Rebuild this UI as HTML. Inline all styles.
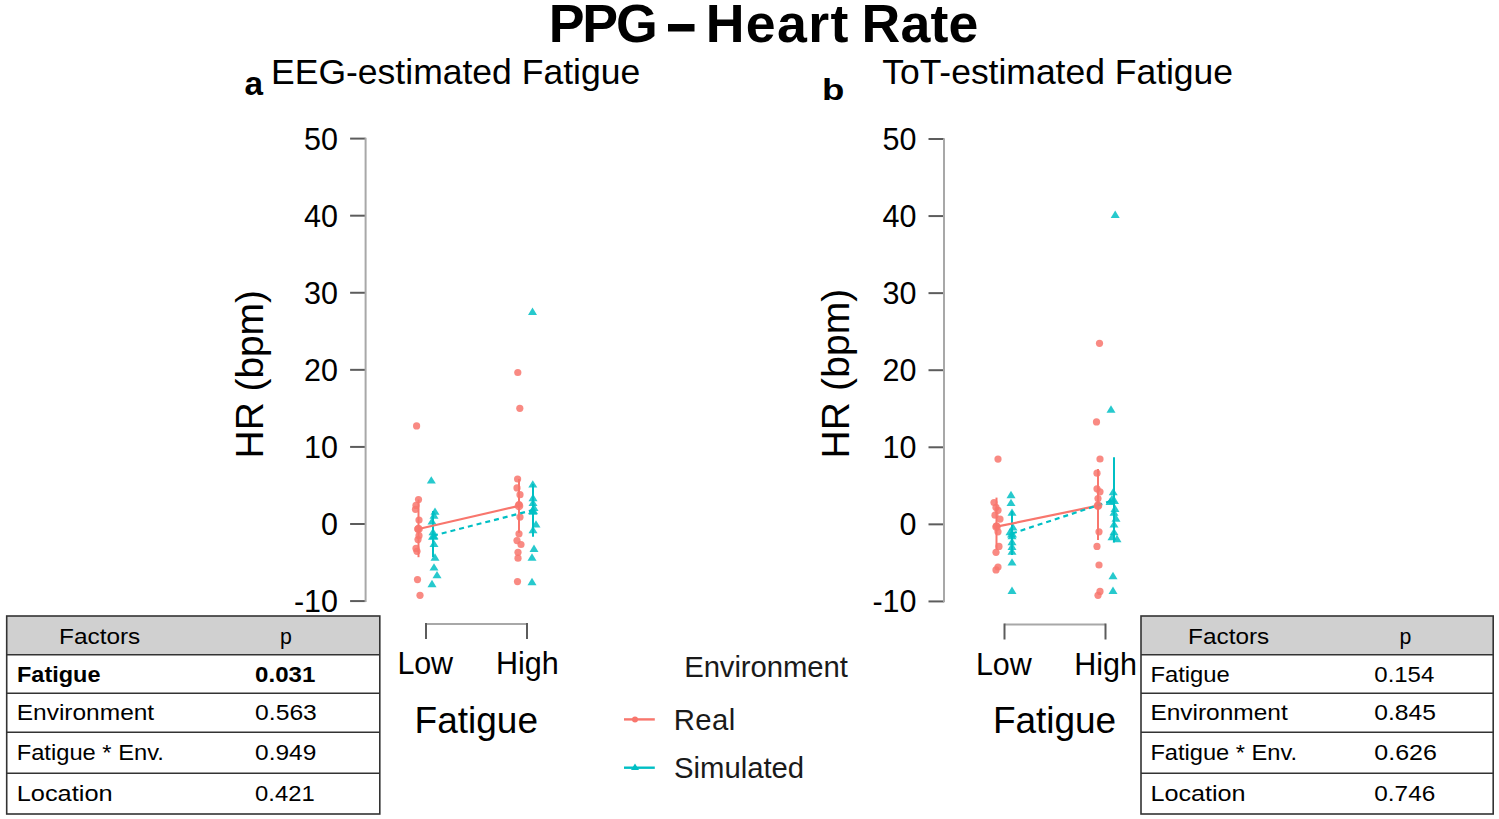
<!DOCTYPE html>
<html><head><meta charset="utf-8"><style>
html,body{margin:0;padding:0;background:#fff;}
svg{display:block;font-family:"Liberation Sans",sans-serif;}
</style></head><body>
<svg width="1499" height="819" viewBox="0 0 1499 819">
<rect x="6.7" y="616" width="373.1" height="38.700000000000045" fill="#d0d0d0"/>
<rect x="6.7" y="616" width="373.1" height="198" fill="none" stroke="#333" stroke-width="1.6"/>
<line x1="6.7" y1="654.7" x2="379.8" y2="654.7" stroke="#333" stroke-width="1.6"/>
<line x1="6.7" y1="693.2" x2="379.8" y2="693.2" stroke="#333" stroke-width="1.6"/>
<line x1="6.7" y1="732.3" x2="379.8" y2="732.3" stroke="#333" stroke-width="1.6"/>
<line x1="6.7" y1="773.3" x2="379.8" y2="773.3" stroke="#333" stroke-width="1.6"/>
<rect x="1141" y="616" width="352.20000000000005" height="38.700000000000045" fill="#d0d0d0"/>
<rect x="1141" y="616" width="352.20000000000005" height="198" fill="none" stroke="#333" stroke-width="1.6"/>
<line x1="1141" y1="654.7" x2="1493.2" y2="654.7" stroke="#333" stroke-width="1.6"/>
<line x1="1141" y1="693.2" x2="1493.2" y2="693.2" stroke="#333" stroke-width="1.6"/>
<line x1="1141" y1="732.3" x2="1493.2" y2="732.3" stroke="#333" stroke-width="1.6"/>
<line x1="1141" y1="773.3" x2="1493.2" y2="773.3" stroke="#333" stroke-width="1.6"/>
<text x="548.80" y="42" font-size="53.7" font-weight="bold" textLength="108.89" lengthAdjust="spacing">PPG</text>
<text x="705.70" y="42" font-size="53.7" font-weight="bold" textLength="142.72" lengthAdjust="spacing">Heart</text>
<text x="861.40" y="42" font-size="53.7" font-weight="bold" textLength="116.99" lengthAdjust="spacing">Rate</text>
<text x="244.40" y="94.8" font-size="34" font-weight="bold" textLength="18.54" lengthAdjust="spacingAndGlyphs">a</text>
<text x="271.00" y="84" font-size="35" textLength="369.24" lengthAdjust="spacingAndGlyphs">EEG-estimated Fatigue</text>
<text x="822.00" y="99.6" font-size="30" font-weight="bold" textLength="22.36" lengthAdjust="spacingAndGlyphs">b</text>
<text x="882.20" y="84.3" font-size="35" textLength="350.86" lengthAdjust="spacingAndGlyphs">ToT-estimated Fatigue</text>
<text x="397.60" y="674.2" font-size="30.5" textLength="55.32" lengthAdjust="spacing">Low</text>
<text x="496.00" y="674.2" font-size="30.5" textLength="62.73" lengthAdjust="spacing">High</text>
<text x="976.00" y="675" font-size="30.5" textLength="55.74" lengthAdjust="spacing">Low</text>
<text x="1074.20" y="675" font-size="30.5" textLength="62.73" lengthAdjust="spacing">High</text>
<text x="414.60" y="732.7" font-size="37" textLength="123.42" lengthAdjust="spacing">Fatigue</text>
<text x="992.90" y="733" font-size="37" textLength="123.22" lengthAdjust="spacing">Fatigue</text>
<text transform="translate(263 458.40) rotate(-90)" x="0" y="0" font-size="39" textLength="168.41" lengthAdjust="spacing">HR (bpm)</text>
<text transform="translate(849.4 458.40) rotate(-90)" x="0" y="0" font-size="39" textLength="169.73" lengthAdjust="spacing">HR (bpm)</text>
<text x="684.20" y="677.1" font-size="29.3" fill="#1a1a1a" textLength="163.58" lengthAdjust="spacing">Environment</text>
<text x="673.70" y="730.4" font-size="29.3" fill="#1a1a1a" textLength="61.67" lengthAdjust="spacing">Real</text>
<text x="674.00" y="778.4" font-size="29.3" fill="#1a1a1a" textLength="130.09" lengthAdjust="spacing">Simulated</text>
<text x="59.00" y="644" font-size="21.3" textLength="81.28" lengthAdjust="spacingAndGlyphs">Factors</text>
<text x="280.00" y="644" font-size="21.3" textLength="11.86" lengthAdjust="spacing">p</text>
<text x="17.02" y="681.5" font-size="21.3" font-weight="bold" textLength="83.46" lengthAdjust="spacingAndGlyphs">Fatigue</text>
<text x="255.10" y="681.5" font-size="21.3" font-weight="bold" textLength="60.19" lengthAdjust="spacingAndGlyphs">0.031</text>
<text x="16.70" y="720.4" font-size="21.3" textLength="137.50" lengthAdjust="spacingAndGlyphs">Environment</text>
<text x="255.10" y="720.4" font-size="21.3" textLength="61.75" lengthAdjust="spacingAndGlyphs">0.563</text>
<text x="16.70" y="760.2" font-size="21.3" textLength="147.18" lengthAdjust="spacingAndGlyphs">Fatigue * Env.</text>
<text x="255.10" y="760.2" font-size="21.3" textLength="61.19" lengthAdjust="spacingAndGlyphs">0.949</text>
<text x="16.70" y="801.4" font-size="21.3" textLength="95.93" lengthAdjust="spacingAndGlyphs">Location</text>
<text x="255.10" y="801.4" font-size="21.3" textLength="59.59" lengthAdjust="spacingAndGlyphs">0.421</text>
<text x="1188.10" y="644" font-size="21.3" textLength="81.09" lengthAdjust="spacingAndGlyphs">Factors</text>
<text x="1399.40" y="644" font-size="21.3" textLength="11.86" lengthAdjust="spacing">p</text>
<text x="1150.40" y="681.5" font-size="21.3" textLength="79.38" lengthAdjust="spacingAndGlyphs">Fatigue</text>
<text x="1374.30" y="681.5" font-size="21.3" textLength="59.99" lengthAdjust="spacingAndGlyphs">0.154</text>
<text x="1150.40" y="720.4" font-size="21.3" textLength="137.29" lengthAdjust="spacingAndGlyphs">Environment</text>
<text x="1374.30" y="720.4" font-size="21.3" textLength="61.63" lengthAdjust="spacingAndGlyphs">0.845</text>
<text x="1150.40" y="760.2" font-size="21.3" textLength="146.78" lengthAdjust="spacingAndGlyphs">Fatigue * Env.</text>
<text x="1374.30" y="760.2" font-size="21.3" textLength="62.55" lengthAdjust="spacingAndGlyphs">0.626</text>
<text x="1150.40" y="801.4" font-size="21.3" textLength="95.23" lengthAdjust="spacingAndGlyphs">Location</text>
<text x="1374.30" y="801.4" font-size="21.3" textLength="60.95" lengthAdjust="spacingAndGlyphs">0.746</text>
<rect x="668" y="24" width="26.5" height="7.5"/>
<line x1="350.1" y1="138.60" x2="365.6" y2="138.60" stroke="#5c5c5c" stroke-width="2"/>
<text x="338" y="149.60" text-anchor="end" font-size="30.5">50</text>
<line x1="350.1" y1="215.68" x2="365.6" y2="215.68" stroke="#5c5c5c" stroke-width="2"/>
<text x="338" y="226.68" text-anchor="end" font-size="30.5">40</text>
<line x1="350.1" y1="292.76" x2="365.6" y2="292.76" stroke="#5c5c5c" stroke-width="2"/>
<text x="338" y="303.76" text-anchor="end" font-size="30.5">30</text>
<line x1="350.1" y1="369.84" x2="365.6" y2="369.84" stroke="#5c5c5c" stroke-width="2"/>
<text x="338" y="380.84" text-anchor="end" font-size="30.5">20</text>
<line x1="350.1" y1="446.92" x2="365.6" y2="446.92" stroke="#5c5c5c" stroke-width="2"/>
<text x="338" y="457.92" text-anchor="end" font-size="30.5">10</text>
<line x1="350.1" y1="524.00" x2="365.6" y2="524.00" stroke="#5c5c5c" stroke-width="2"/>
<text x="338" y="535.00" text-anchor="end" font-size="30.5">0</text>
<line x1="350.1" y1="601.08" x2="365.6" y2="601.08" stroke="#5c5c5c" stroke-width="2"/>
<text x="338" y="612.08" text-anchor="end" font-size="30.5">-10</text>
<line x1="365.6" y1="137.80" x2="365.6" y2="601.88" stroke="#a8a8a8" stroke-width="2"/>
<line x1="928.5" y1="139.00" x2="944.0" y2="139.00" stroke="#5c5c5c" stroke-width="2"/>
<text x="916.5" y="150.00" text-anchor="end" font-size="30.5">50</text>
<line x1="928.5" y1="216.07" x2="944.0" y2="216.07" stroke="#5c5c5c" stroke-width="2"/>
<text x="916.5" y="227.07" text-anchor="end" font-size="30.5">40</text>
<line x1="928.5" y1="293.14" x2="944.0" y2="293.14" stroke="#5c5c5c" stroke-width="2"/>
<text x="916.5" y="304.14" text-anchor="end" font-size="30.5">30</text>
<line x1="928.5" y1="370.21" x2="944.0" y2="370.21" stroke="#5c5c5c" stroke-width="2"/>
<text x="916.5" y="381.21" text-anchor="end" font-size="30.5">20</text>
<line x1="928.5" y1="447.28" x2="944.0" y2="447.28" stroke="#5c5c5c" stroke-width="2"/>
<text x="916.5" y="458.28" text-anchor="end" font-size="30.5">10</text>
<line x1="928.5" y1="524.35" x2="944.0" y2="524.35" stroke="#5c5c5c" stroke-width="2"/>
<text x="916.5" y="535.35" text-anchor="end" font-size="30.5">0</text>
<line x1="928.5" y1="601.42" x2="944.0" y2="601.42" stroke="#5c5c5c" stroke-width="2"/>
<text x="916.5" y="612.42" text-anchor="end" font-size="30.5">-10</text>
<line x1="944.0" y1="138.20" x2="944.0" y2="602.22" stroke="#a8a8a8" stroke-width="2"/>
<line x1="426" y1="624" x2="527" y2="624" stroke="#a8a8a8" stroke-width="2"/><line x1="426" y1="623" x2="426" y2="639" stroke="#5c5c5c" stroke-width="2"/><line x1="527" y1="623" x2="527" y2="639" stroke="#5c5c5c" stroke-width="2"/>
<line x1="1004.5" y1="624.5" x2="1105.5" y2="624.5" stroke="#a8a8a8" stroke-width="2"/><line x1="1004.5" y1="623.5" x2="1004.5" y2="639.5" stroke="#5c5c5c" stroke-width="2"/><line x1="1105.5" y1="623.5" x2="1105.5" y2="639.5" stroke="#5c5c5c" stroke-width="2"/>
<circle cx="418.5" cy="499.6" r="3.6" fill="#F8766D" fill-opacity="0.85"/>
<circle cx="416" cy="505.4" r="3.6" fill="#F8766D" fill-opacity="0.85"/>
<circle cx="415.5" cy="509.3" r="3.6" fill="#F8766D" fill-opacity="0.85"/>
<circle cx="419" cy="520" r="3.6" fill="#F8766D" fill-opacity="0.85"/>
<circle cx="418" cy="528.9" r="3.6" fill="#F8766D" fill-opacity="0.85"/>
<circle cx="419" cy="535.7" r="3.6" fill="#F8766D" fill-opacity="0.85"/>
<circle cx="418" cy="539.6" r="3.6" fill="#F8766D" fill-opacity="0.85"/>
<circle cx="416" cy="548.4" r="3.6" fill="#F8766D" fill-opacity="0.85"/>
<circle cx="417" cy="551.3" r="3.6" fill="#F8766D" fill-opacity="0.85"/>
<circle cx="417.5" cy="579.6" r="3.6" fill="#F8766D" fill-opacity="0.85"/>
<circle cx="420" cy="595.3" r="3.6" fill="#F8766D" fill-opacity="0.85"/>
<circle cx="416.6" cy="425.9" r="3.6" fill="#F8766D" fill-opacity="0.85"/>
<path d="M431.3 476.16 L435.80 483.54 L426.80 483.54Z" fill="#00BFC4" fill-opacity="0.85"/>
<path d="M435 507.46 L439.50 514.84 L430.50 514.84Z" fill="#00BFC4" fill-opacity="0.85"/>
<path d="M434 511.36 L438.50 518.74 L429.50 518.74Z" fill="#00BFC4" fill-opacity="0.85"/>
<path d="M432 517.16 L436.50 524.54 L427.50 524.54Z" fill="#00BFC4" fill-opacity="0.85"/>
<path d="M433 527.96 L437.50 535.34 L428.50 535.34Z" fill="#00BFC4" fill-opacity="0.85"/>
<path d="M434 531.86 L438.50 539.24 L429.50 539.24Z" fill="#00BFC4" fill-opacity="0.85"/>
<path d="M434 539.66 L438.50 547.04 L429.50 547.04Z" fill="#00BFC4" fill-opacity="0.85"/>
<path d="M435 553.36 L439.50 560.74 L430.50 560.74Z" fill="#00BFC4" fill-opacity="0.85"/>
<path d="M434 563.16 L438.50 570.54 L429.50 570.54Z" fill="#00BFC4" fill-opacity="0.85"/>
<path d="M437 570.96 L441.50 578.34 L432.50 578.34Z" fill="#00BFC4" fill-opacity="0.85"/>
<path d="M432 579.76 L436.50 587.14 L427.50 587.14Z" fill="#00BFC4" fill-opacity="0.85"/>
<line x1="418.5" y1="499.6" x2="418.5" y2="557.2" stroke="#F8766D" stroke-width="2"/>
<line x1="433" y1="511" x2="433" y2="557" stroke="#00BFC4" stroke-width="2"/>
<circle cx="517.6" cy="479" r="3.6" fill="#F8766D" fill-opacity="0.85"/>
<circle cx="517" cy="487.9" r="3.6" fill="#F8766D" fill-opacity="0.85"/>
<circle cx="520" cy="494.7" r="3.6" fill="#F8766D" fill-opacity="0.85"/>
<circle cx="519" cy="504.5" r="3.6" fill="#F8766D" fill-opacity="0.85"/>
<circle cx="520" cy="517.1" r="3.6" fill="#F8766D" fill-opacity="0.85"/>
<circle cx="519" cy="533.8" r="3.6" fill="#F8766D" fill-opacity="0.85"/>
<circle cx="517" cy="540.6" r="3.6" fill="#F8766D" fill-opacity="0.85"/>
<circle cx="521" cy="544.5" r="3.6" fill="#F8766D" fill-opacity="0.85"/>
<circle cx="518" cy="552.3" r="3.6" fill="#F8766D" fill-opacity="0.85"/>
<circle cx="518" cy="558.2" r="3.6" fill="#F8766D" fill-opacity="0.85"/>
<circle cx="517.5" cy="581.6" r="3.6" fill="#F8766D" fill-opacity="0.85"/>
<circle cx="517.8" cy="372.5" r="3.6" fill="#F8766D" fill-opacity="0.85"/>
<circle cx="519.8" cy="408.3" r="3.6" fill="#F8766D" fill-opacity="0.85"/>
<path d="M532.8 480.16 L537.30 487.54 L528.30 487.54Z" fill="#00BFC4" fill-opacity="0.85"/>
<path d="M533 493.76 L537.50 501.14 L528.50 501.14Z" fill="#00BFC4" fill-opacity="0.85"/>
<path d="M533 498.66 L537.50 506.04 L528.50 506.04Z" fill="#00BFC4" fill-opacity="0.85"/>
<path d="M534 503.56 L538.50 510.94 L529.50 510.94Z" fill="#00BFC4" fill-opacity="0.85"/>
<path d="M533 507.46 L537.50 514.84 L528.50 514.84Z" fill="#00BFC4" fill-opacity="0.85"/>
<path d="M536 520.16 L540.50 527.54 L531.50 527.54Z" fill="#00BFC4" fill-opacity="0.85"/>
<path d="M533 525.96 L537.50 533.34 L528.50 533.34Z" fill="#00BFC4" fill-opacity="0.85"/>
<path d="M534 544.56 L538.50 551.94 L529.50 551.94Z" fill="#00BFC4" fill-opacity="0.85"/>
<path d="M532 553.36 L536.50 560.74 L527.50 560.74Z" fill="#00BFC4" fill-opacity="0.85"/>
<path d="M532 577.76 L536.50 585.14 L527.50 585.14Z" fill="#00BFC4" fill-opacity="0.85"/>
<path d="M532.5 307.56 L537.00 314.94 L528.00 314.94Z" fill="#00BFC4" fill-opacity="0.85"/>
<line x1="519" y1="479" x2="519" y2="533" stroke="#F8766D" stroke-width="2"/>
<line x1="533" y1="484" x2="533" y2="536.7" stroke="#00BFC4" stroke-width="2"/>
<line x1="418.5" y1="529" x2="519" y2="505.9" stroke="#F8766D" stroke-width="2.2"/>
<line x1="433" y1="535.8" x2="533" y2="510" stroke="#00BFC4" stroke-width="2.2" stroke-dasharray="5 4"/>
<circle cx="418.5" cy="529" r="4.3" fill="#F8766D" fill-opacity="0.85"/>
<path d="M433 531.54 L438.00 539.74 L428.00 539.74Z" fill="#00BFC4" fill-opacity="0.85"/>
<circle cx="519" cy="505.9" r="4.3" fill="#F8766D" fill-opacity="0.85"/>
<path d="M533 505.74 L538.00 513.94 L528.00 513.94Z" fill="#00BFC4" fill-opacity="0.85"/>
<circle cx="998" cy="459.1" r="3.6" fill="#F8766D" fill-opacity="0.85"/>
<circle cx="994" cy="502.5" r="3.6" fill="#F8766D" fill-opacity="0.85"/>
<circle cx="996" cy="507.4" r="3.6" fill="#F8766D" fill-opacity="0.85"/>
<circle cx="998" cy="510.3" r="3.6" fill="#F8766D" fill-opacity="0.85"/>
<circle cx="995" cy="515.2" r="3.6" fill="#F8766D" fill-opacity="0.85"/>
<circle cx="1000" cy="519.1" r="3.6" fill="#F8766D" fill-opacity="0.85"/>
<circle cx="996.5" cy="526" r="3.6" fill="#F8766D" fill-opacity="0.85"/>
<circle cx="998" cy="531.8" r="3.6" fill="#F8766D" fill-opacity="0.85"/>
<circle cx="999" cy="546.4" r="3.6" fill="#F8766D" fill-opacity="0.85"/>
<circle cx="996" cy="552.3" r="3.6" fill="#F8766D" fill-opacity="0.85"/>
<circle cx="998" cy="567" r="3.6" fill="#F8766D" fill-opacity="0.85"/>
<circle cx="996" cy="569.9" r="3.6" fill="#F8766D" fill-opacity="0.85"/>
<path d="M1011 490.86 L1015.50 498.24 L1006.50 498.24Z" fill="#00BFC4" fill-opacity="0.85"/>
<path d="M1011 498.66 L1015.50 506.04 L1006.50 506.04Z" fill="#00BFC4" fill-opacity="0.85"/>
<path d="M1012 508.46 L1016.50 515.84 L1007.50 515.84Z" fill="#00BFC4" fill-opacity="0.85"/>
<path d="M1013 523.16 L1017.50 530.54 L1008.50 530.54Z" fill="#00BFC4" fill-opacity="0.85"/>
<path d="M1010 527.96 L1014.50 535.34 L1005.50 535.34Z" fill="#00BFC4" fill-opacity="0.85"/>
<path d="M1012 531.86 L1016.50 539.24 L1007.50 539.24Z" fill="#00BFC4" fill-opacity="0.85"/>
<path d="M1012 537.76 L1016.50 545.14 L1007.50 545.14Z" fill="#00BFC4" fill-opacity="0.85"/>
<path d="M1012 542.56 L1016.50 549.94 L1007.50 549.94Z" fill="#00BFC4" fill-opacity="0.85"/>
<path d="M1012 547.46 L1016.50 554.84 L1007.50 554.84Z" fill="#00BFC4" fill-opacity="0.85"/>
<path d="M1012 558.16 L1016.50 565.54 L1007.50 565.54Z" fill="#00BFC4" fill-opacity="0.85"/>
<path d="M1012 586.56 L1016.50 593.94 L1007.50 593.94Z" fill="#00BFC4" fill-opacity="0.85"/>
<line x1="996.5" y1="497.6" x2="996.5" y2="549.4" stroke="#F8766D" stroke-width="2"/>
<line x1="1012" y1="511" x2="1012" y2="555" stroke="#00BFC4" stroke-width="2"/>
<circle cx="1100" cy="459" r="3.6" fill="#F8766D" fill-opacity="0.85"/>
<circle cx="1097" cy="473.2" r="3.6" fill="#F8766D" fill-opacity="0.85"/>
<circle cx="1097" cy="488.8" r="3.6" fill="#F8766D" fill-opacity="0.85"/>
<circle cx="1100" cy="491.8" r="3.6" fill="#F8766D" fill-opacity="0.85"/>
<circle cx="1098" cy="498.6" r="3.6" fill="#F8766D" fill-opacity="0.85"/>
<circle cx="1098" cy="505.4" r="3.6" fill="#F8766D" fill-opacity="0.85"/>
<circle cx="1099" cy="531.8" r="3.6" fill="#F8766D" fill-opacity="0.85"/>
<circle cx="1097" cy="546.4" r="3.6" fill="#F8766D" fill-opacity="0.85"/>
<circle cx="1099" cy="565" r="3.6" fill="#F8766D" fill-opacity="0.85"/>
<circle cx="1100" cy="591.4" r="3.6" fill="#F8766D" fill-opacity="0.85"/>
<circle cx="1098" cy="595.3" r="3.6" fill="#F8766D" fill-opacity="0.85"/>
<circle cx="1096.5" cy="421.9" r="3.6" fill="#F8766D" fill-opacity="0.85"/>
<circle cx="1099.5" cy="343.3" r="3.6" fill="#F8766D" fill-opacity="0.85"/>
<path d="M1113.2 487.96 L1117.70 495.34 L1108.70 495.34Z" fill="#00BFC4" fill-opacity="0.85"/>
<path d="M1112 494.76 L1116.50 502.14 L1107.50 502.14Z" fill="#00BFC4" fill-opacity="0.85"/>
<path d="M1110 497.66 L1114.50 505.04 L1105.50 505.04Z" fill="#00BFC4" fill-opacity="0.85"/>
<path d="M1115 504.56 L1119.50 511.94 L1110.50 511.94Z" fill="#00BFC4" fill-opacity="0.85"/>
<path d="M1114 508.46 L1118.50 515.84 L1109.50 515.84Z" fill="#00BFC4" fill-opacity="0.85"/>
<path d="M1116 514.26 L1120.50 521.64 L1111.50 521.64Z" fill="#00BFC4" fill-opacity="0.85"/>
<path d="M1114 520.16 L1118.50 527.54 L1109.50 527.54Z" fill="#00BFC4" fill-opacity="0.85"/>
<path d="M1114 527.96 L1118.50 535.34 L1109.50 535.34Z" fill="#00BFC4" fill-opacity="0.85"/>
<path d="M1112 532.86 L1116.50 540.24 L1107.50 540.24Z" fill="#00BFC4" fill-opacity="0.85"/>
<path d="M1117 534.76 L1121.50 542.14 L1112.50 542.14Z" fill="#00BFC4" fill-opacity="0.85"/>
<path d="M1113 571.86 L1117.50 579.24 L1108.50 579.24Z" fill="#00BFC4" fill-opacity="0.85"/>
<path d="M1113 586.56 L1117.50 593.94 L1108.50 593.94Z" fill="#00BFC4" fill-opacity="0.85"/>
<path d="M1111 405.36 L1115.50 412.74 L1106.50 412.74Z" fill="#00BFC4" fill-opacity="0.85"/>
<path d="M1115.2 210.56 L1119.70 217.94 L1110.70 217.94Z" fill="#00BFC4" fill-opacity="0.85"/>
<line x1="1098" y1="469" x2="1098" y2="540" stroke="#F8766D" stroke-width="2"/>
<line x1="1114" y1="457.2" x2="1114" y2="542.5" stroke="#00BFC4" stroke-width="2"/>
<line x1="996.5" y1="526.7" x2="1098" y2="505.7" stroke="#F8766D" stroke-width="2.2"/>
<line x1="1012" y1="533.5" x2="1114" y2="500" stroke="#00BFC4" stroke-width="2.2" stroke-dasharray="5 4"/>
<circle cx="996.5" cy="526.7" r="4.3" fill="#F8766D" fill-opacity="0.85"/>
<path d="M1012 529.24 L1017.00 537.44 L1007.00 537.44Z" fill="#00BFC4" fill-opacity="0.85"/>
<circle cx="1098" cy="505.7" r="4.3" fill="#F8766D" fill-opacity="0.85"/>
<path d="M1114 495.74 L1119.00 503.94 L1109.00 503.94Z" fill="#00BFC4" fill-opacity="0.85"/>
<line x1="624" y1="719.4" x2="654.8" y2="719.4" stroke="#F8766D" stroke-width="2.4"/>
<circle cx="635" cy="719.4" r="3" fill="#F8766D"/>
<line x1="624" y1="767.7" x2="654.8" y2="767.7" stroke="#00BFC4" stroke-width="2.4"/>
<path d="M635 763.5 L639 770 L631 770Z" fill="#00BFC4"/>
</svg>
</body></html>
